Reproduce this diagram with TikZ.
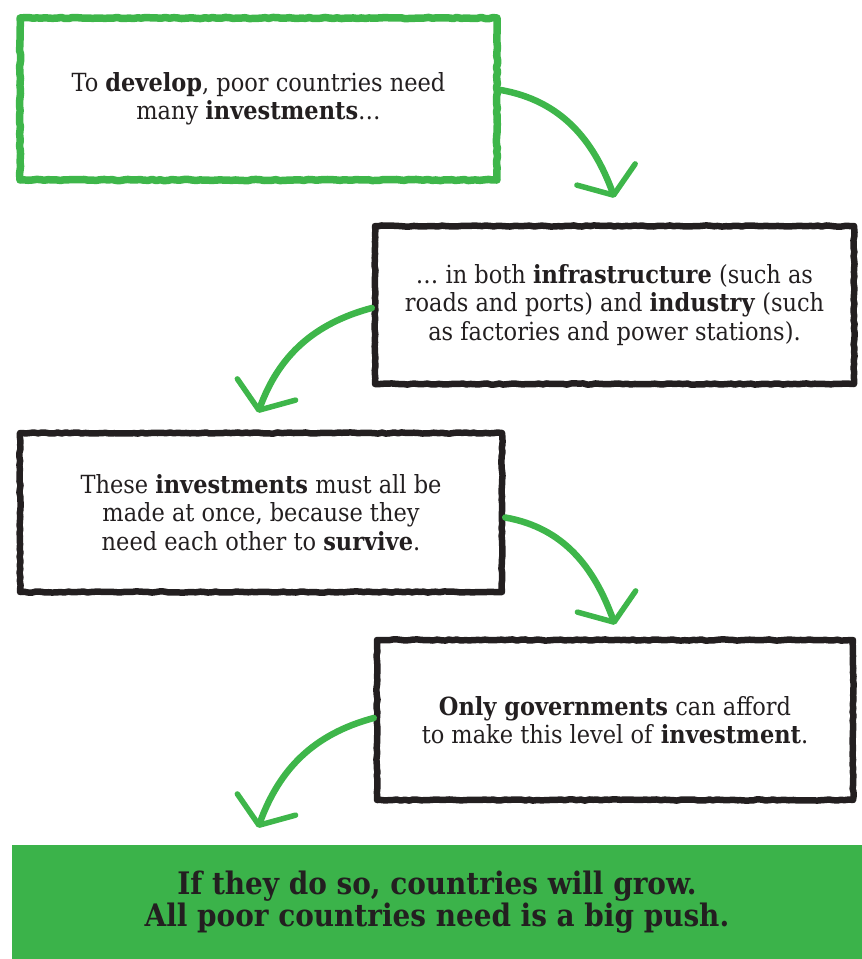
\documentclass[tikz,border=0pt]{standalone}
\usepackage{fontspec}
\setmainfont{DejaVu Serif Condensed}
\usetikzlibrary{arrows.meta,decorations.pathmorphing}
\definecolor{pushgreen}{RGB}{62,182,74}
\definecolor{bargreen}{RGB}{59,179,74}
\definecolor{ink}{RGB}{35,31,32}
\tikzset{
  chalkbox/.style={draw=ink, line width=6.5pt, line join=round,
    decorate, decoration={random steps, segment length=4pt, amplitude=0.6pt},
    align=center, inner sep=0pt, text=ink, font=\fontsize{25}{28.5}\selectfont},
  greenbox/.style={chalkbox, draw=pushgreen, line width=7.5pt},
  push/.style={draw=pushgreen, line width=6.5pt, line cap=round,
    -{Straight Barb[length=22pt, width=62pt, line width=5.5pt, round]}},
}
\begin{document}
\begin{tikzpicture}[x=1pt, y=1pt]
  \pgfmathsetseed{7}
  \useasboundingbox (0,0) rectangle (862,-959);
  % the four steps
  \node[greenbox, minimum width=477pt, minimum height=162pt] (b1) at (258.5,-99)
    {To \textbf{develop}, poor countries need\\many \textbf{investments}…};
  \node[chalkbox, minimum width=479pt, minimum height=158pt] (b2) at (614.5,-305)
    {… in both \textbf{infrastructure} (such as\\roads and ports) and \textbf{industry} (such\\as factories and power stations).};
  \node[chalkbox, minimum width=482pt, minimum height=159pt] (b3) at (261,-512.5)
    {These \textbf{investments} must all be\\made at once, because they\\need each other to \textbf{survive}.};
  \node[chalkbox, minimum width=476pt, minimum height=160pt] (b4) at (615,-720)
    {\textbf{Only governments} can afford\\to make this level of \textbf{investment}.};
  % the conclusion
  \node[fill=bargreen, minimum width=850pt, minimum height=114pt, inner sep=0pt,
    align=center, text=ink, font=\fontsize{31}{30}\selectfont\bfseries] (bar) at (437,-902)
    {If they do so, countries will grow.\\All poor countries need is a big push.};
  \path (b3.south |- bar.north) ++(-3,17) coordinate (t4);
  % arrows
  \draw[push] ([yshift=9pt]b1.east) to[out=-10, in=110] ([yshift=25pt]b2.north);
  \draw[push] ([yshift=-3pt]b2.west) to[out=195, in=70] ([xshift=-3pt, yshift=17pt]b3.north);
  \draw[push] ([yshift=-5pt]b3.east) to[out=-10, in=110] ([yshift=12pt]b4.north);
  \draw[push] ([yshift=2pt]b4.west) to[out=195, in=70] (t4);
\end{tikzpicture}
\end{document}
